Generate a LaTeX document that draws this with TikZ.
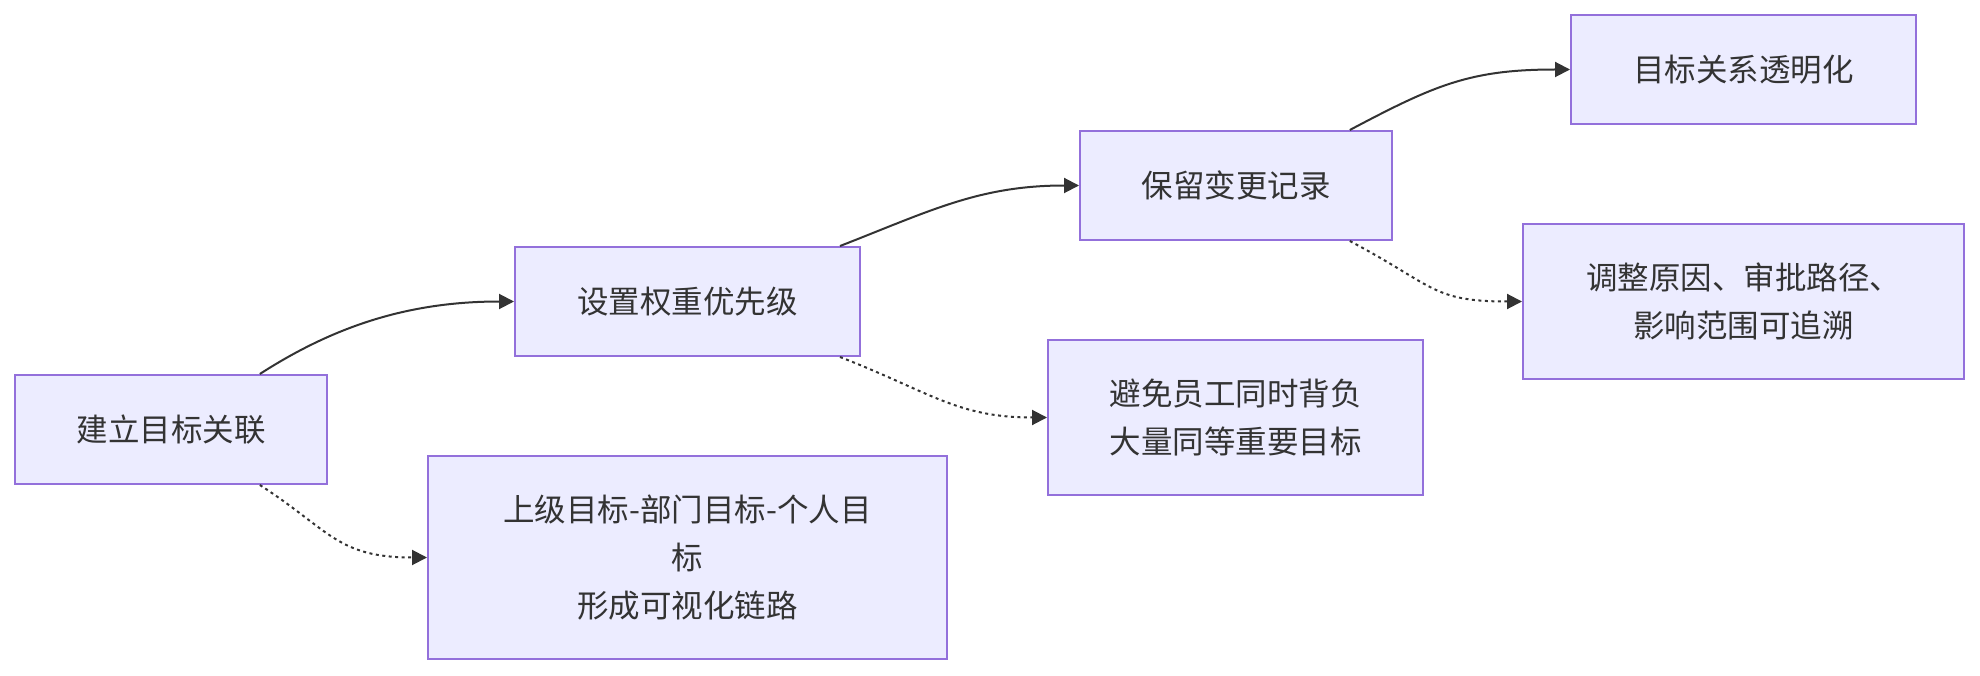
\documentclass[tikz,border=0pt]{standalone}
\usepackage{fontspec}
\setmainfont{Noto Sans CJK SC}
\usetikzlibrary{arrows.meta}
\definecolor{boxfill}{HTML}{ECECFF}
\definecolor{boxline}{HTML}{9370DB}
\definecolor{ink}{HTML}{333333}

\begin{document}
\begin{tikzpicture}[x=1pt,y=-1pt,
    box/.style={draw=boxline,fill=boxfill,line width=2pt,text=ink,align=center,
                inner sep=0pt,font=\fontsize{31.5pt}{48pt}\selectfont},
    flow/.style={draw=ink,line width=2pt,-{Triangle[length=15pt,width=15pt]}},
    hint/.style={flow,dash pattern=on 3pt off 3.5pt}]
                        \useasboundingbox (0,0) rectangle (1980,676);
                        \node[box,minimum width=312pt,minimum height=109pt] (link) at (171,429.5) {建立目标关联};
                        \node[box,minimum width=345pt,minimum height=109pt] (weight) at (687.5,301.5) {设置权重优先级};
                        \node[box,minimum width=519pt,minimum height=203pt] (chain) at (687.5,557.5) {上级目标-部门目标-个人目\\标\\形成可视化链路};
                        \node[box,minimum width=312pt,minimum height=109pt] (record) at (1236,185.5) {保留变更记录};
                        \node[box,minimum width=375pt,minimum height=155pt] (avoid) at (1235.5,417.5) {避免员工同时背负\\大量同等重要目标};
                        \node[box,minimum width=345pt,minimum height=109pt] (clear) at (1743.5,69.5) {目标关系透明化};
                        \node[box,minimum width=441pt,minimum height=155pt] (trace) at (1743.5,301.5) {调整原因、审批路径、\\影响范围可追溯};
                        \draw[flow] (link.32) .. controls +(70,-45) and +(-110,0) .. (weight.west);
                        \draw[hint] (link.-32) .. controls +(70,45) and +(-90,0) .. (chain.west);
                        \draw[flow] (weight.20) .. controls +(90,-35) and +(-100,0) .. (record.west);
                        \draw[hint] (weight.-20) .. controls +(90,35) and +(-90,0) .. (avoid.west);
                        \draw[flow] (record.26) .. controls +(85,-45) and +(-100,0) .. (clear.west);
                        \draw[hint] (record.-26) .. controls +(85,45) and +(-90,0) .. (trace.west);
                    \end{tikzpicture}
\end{document}
